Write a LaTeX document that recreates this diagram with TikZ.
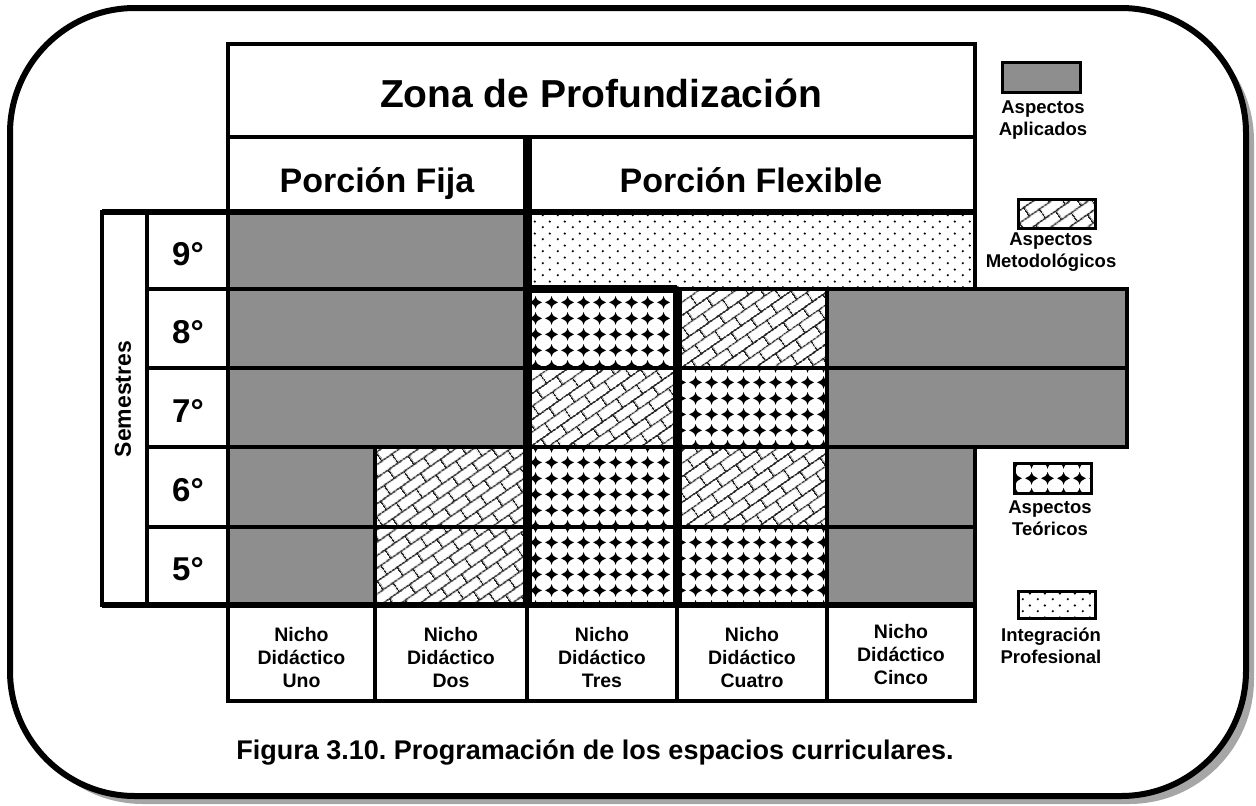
\documentclass[tikz,border=0pt]{standalone}
\usepackage{fontspec}
\setmainfont{Liberation Sans}
\usetikzlibrary{patterns.meta}
\definecolor{aplgray}{HTML}{8E8E8E}
\definecolor{shadowgray}{HTML}{A6A6A6}
\tikzdeclarepattern{
  name=teo, type=colored,
  bottom left={(0pt,0pt)}, top right={(16pt,16pt)},
  tile size={(16pt,16pt)},
  code={
    \fill[white] (0pt,0pt) rectangle (16pt,16pt);
    \fill[black] (8pt,1.2pt) .. controls (9.3pt,5.3pt) .. (14.8pt,8pt)
      .. controls (9.3pt,10.7pt) .. (8pt,14.8pt)
      .. controls (6.7pt,10.7pt) .. (1.2pt,8pt)
      .. controls (6.7pt,5.3pt) .. (8pt,1.2pt) -- cycle;
  }
}
\tikzdeclarepattern{
  name=met, type=colored,
  bottom left={(0pt,0pt)}, top right={(24pt,22pt)},
  tile size={(24pt,22pt)},
  tile transformation={rotate=35},
  code={
    \fill[white] (0pt,0pt) rectangle (24pt,22pt);
    \draw[black!85, line width=1.5pt]
      (0pt,5.5pt) -- (24pt,5.5pt) (0pt,16.5pt) -- (24pt,16.5pt)
      (6pt,5.5pt) -- (6pt,16.5pt)
      (18pt,16.5pt) -- (18pt,22pt) (18pt,0pt) -- (18pt,5.5pt);
  }
}
\tikzdeclarepattern{
  name=intg, type=colored,
  bottom left={(0pt,0pt)}, top right={(15pt,12pt)},
  tile size={(15pt,12pt)},
  code={
    \fill[white] (0pt,0pt) rectangle (15pt,12pt);
    \fill[black] (3pt,3pt) circle (1.3pt) (10.5pt,9pt) circle (1.3pt);
  }
}
\tikzset{
  apl/.style={fill=aplgray},
  teoc/.style={pattern=teo},
  metc/.style={pattern=met},
  intc/.style={pattern=intg},
  thin line/.style={line width=4pt},
  thick line/.style={line width=9pt},
  legbox/.style={line width=3pt},
  titletext/.style={font=\bfseries\fontsize{39}{44}\selectfont, anchor=base},
  subtext/.style={font=\bfseries\fontsize{34}{40}\selectfont, anchor=base},
  numtext/.style={font=\bfseries\fontsize{33}{36}\selectfont},
  labtext/.style={font=\bfseries\fontsize{19.5}{23}\selectfont, align=center},
  legtext/.style={font=\bfseries\fontsize{18.5}{22}\selectfont, align=center, anchor=north},
  captext/.style={font=\bfseries\fontsize{27}{30}\selectfont, anchor=base}
}
\frenchspacing
\begin{document}
\begin{tikzpicture}[x=1pt,y=-1pt]
\useasboundingbox (0,0) rectangle (1256,806);
% frame with shadow
\fill[shadowgray, rounded corners=125pt] (18,16) rectangle (1254,804);
\draw[line width=6pt, fill=white, rounded corners=125pt] (10,8) rectangle (1246,796);

% cell fills
\fill[apl] (228,212) rectangle (527,447);
\fill[apl] (827,289) rectangle (1127,447);
\fill[apl] (228,447) rectangle (375,605);
\fill[apl] (827,447) rectangle (975,605);
\fill[intc] (527,212) rectangle (975,289);
\fill[teoc] (527,289) rectangle (677,368);
\fill[teoc] (677,368) rectangle (827,447);
\fill[teoc] (527,447) rectangle (677,605);
\fill[teoc] (677,527) rectangle (827,605);
\fill[metc] (677,289) rectangle (827,368);
\fill[metc] (527,368) rectangle (677,447);
\fill[metc] (375,447) rectangle (527,605);
\fill[metc] (677,447) rectangle (827,527);

% header
\draw[thin line] (228,44) rectangle (975,212);
\draw[thin line] (228,137) -- (975,137);
% semestres column
\draw[thin line] (102,212) rectangle (147,605);
\draw[line width=6pt] (102,212) -- (975,212);
\draw[line width=6pt] (102,605) -- (975,605);
\draw[thin line] (147,289) -- (1127,289);
\draw[thin line] (147,368) -- (1127,368);
\draw[thin line] (147,447) -- (1127,447);
\draw[thin line] (147,527) -- (975,527);
\draw[thin line] (226,701) -- (977,701);
% verticals
\draw[thin line] (147,212) -- (147,605);
\draw[thin line] (228,44) -- (228,701);
\draw[thin line] (375,447) -- (375,701);
\draw[thin line] (527,605) -- (527,701);
\draw[thin line] (677,605) -- (677,701);
\draw[thin line] (827,289) -- (827,701);
\draw[thin line] (975,44) -- (975,289);
\draw[thin line] (975,447) -- (975,701);
\draw[thin line] (1127,287) -- (1127,449);
\draw[thick line] (527,137) -- (527,605);
\draw[thick line] (677,289) -- (677,605);
\draw[line width=8pt] (527,289) -- (677,289);

% header texts
\node[titletext] (zona) at (601,107) {Zona de Profundización};
\node[subtext] (pfija) at (377,192) {Porción Fija};
\node[subtext] (pflex) at (751,192) {Porción Flexible};

% semester numbers
\node[numtext] (s9) at (188,254) {9°};
\node[numtext] (s8) at (188,332) {8°};
\node[numtext] (s7) at (188,411) {7°};
\node[numtext] (s6) at (188,490) {6°};
\node[numtext] (s5) at (188,569) {5°};
\node[font=\bfseries\fontsize{23}{26}\selectfont, rotate=90] (sem) at (123,399) {Semestres};

% bottom labels
\node[labtext] (n1) at (301.5,658) {Nicho\\Didáctico\\Uno};
\node[labtext] (n2) at (451,658) {Nicho\\Didáctico\\Dos};
\node[labtext] (n3) at (602,658) {Nicho\\Didáctico\\Tres};
\node[labtext] (n4) at (752,658) {Nicho\\Didáctico\\Cuatro};
\node[labtext] (n5) at (901,655) {Nicho\\Didáctico\\Cinco};

% legend
\draw[legbox, apl] (1002,62) rectangle (1080,92);
\node[legtext] (la) at (1043,97) {Aspectos\\Aplicados};
\draw[legbox, metc] (1018,199) rectangle (1095,228);
\node[legtext] (lm) at (1051,229) {Aspectos\\Metodológicos};
\draw[legbox, teoc] (1014,463) rectangle (1091,493);
\node[legtext] (lt) at (1050,497) {Aspectos\\Teóricos};
\draw[legbox, intc] (1018,591) rectangle (1095,618);
\node[legtext] (li) at (1051,624) {Integración\\Profesional};

% caption
\node[captext] (caption) at (595,759) {Figura 3.10. Programación de los espacios curriculares.};
\end{tikzpicture}
\end{document}
